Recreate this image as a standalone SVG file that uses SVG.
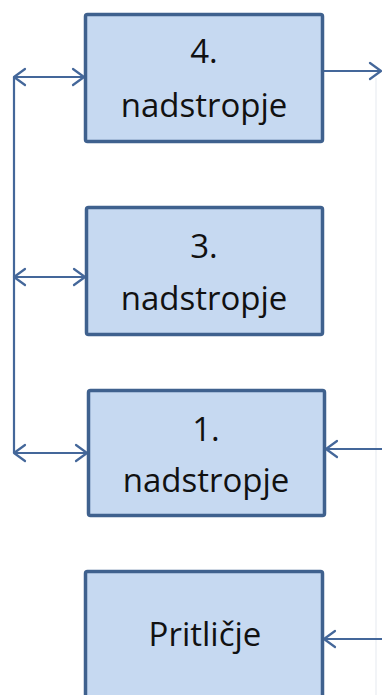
<svg xmlns="http://www.w3.org/2000/svg" width="382" height="695" viewBox="0 0 382 695">
  <style>
    .box { fill: #c6d9f1; stroke: #3f618e; stroke-width: 3.5; }
    .lbl { font-family: "Open Sans", "Noto Sans", "DejaVu Sans", sans-serif; font-size: 33px; fill: #111111; text-anchor: middle; }
    .wire { fill: none; stroke: #44679a; stroke-width: 2.2; }
    .both { marker-start: url(#tip); marker-end: url(#tip); }
    .one { marker-end: url(#tip); }
  </style>
  <defs>
    <marker id="tip" markerUnits="userSpaceOnUse" viewBox="-1 -1 15 20" markerWidth="15" markerHeight="20" refX="12" refY="9" orient="auto-start-reverse">
      <path d="M1,1 L12,9 L1,17" fill="none" stroke="#44679a" stroke-width="2.2" stroke-linecap="round" stroke-linejoin="round"/>
    </marker>
  </defs>

  <rect width="382" height="695" fill="#ffffff"/>
  <!-- faint guide on the right edge -->
  <line x1="376" y1="78" x2="376" y2="695" stroke="#eef0f4" stroke-width="1.5"/>

  <g id="connectors">
    <path class="wire" d="M14,77 V453"/>
    <path class="wire both" d="M14,77 H84"/>
    <path class="wire both" d="M14,277 H85"/>
    <path class="wire both" d="M14,453 H87"/>
    <path class="wire one" d="M324,71 H381"/>
    <path class="wire one" d="M382,449 H326"/>
    <path class="wire one" d="M382,639 H324"/>
  </g>

  <g id="floor4">
    <rect class="box" x="85.5" y="14.5" width="237" height="127" rx="2"/>
    <text class="lbl" x="204" y="63">4.</text>
    <text class="lbl" x="204" y="117">nadstropje</text>
  </g>

  <g id="floor3">
    <rect class="box" x="86.5" y="207.5" width="236" height="127" rx="2"/>
    <text class="lbl" x="204" y="258">3.</text>
    <text class="lbl" x="204" y="310">nadstropje</text>
  </g>

  <g id="floor1">
    <rect class="box" x="88.5" y="390.5" width="236" height="125" rx="2"/>
    <text class="lbl" x="206" y="441">1.</text>
    <text class="lbl" x="206" y="492">nadstropje</text>
  </g>

  <g id="ground">
    <rect class="box" x="85.5" y="571.5" width="237" height="140" rx="2"/>
    <text class="lbl" x="205" y="646">Pritličje</text>
  </g>
</svg>
